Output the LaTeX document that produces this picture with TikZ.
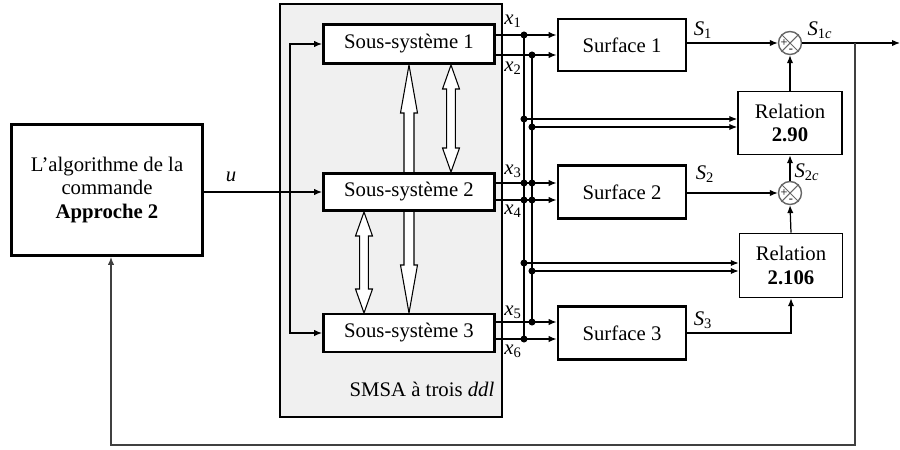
\documentclass[tikz,border=0pt]{standalone}
\usepackage{fontspec}
\setmainfont{Liberation Serif}
\usetikzlibrary{arrows.meta,calc}
\newcommand\hollowarrow[6]{%
  \draw[fill=white, line width=0.6pt]
    (#1,#2) -- ({#1+#5},{#2+#6}) -- ({#1+#4},{#2+#6}) -- ({#1+#4},{#3-#6})
    -- ({#1+#5},{#3-#6}) -- (#1,#3) -- ({#1-#5},{#3-#6}) -- ({#1-#4},{#3-#6})
    -- ({#1-#4},{#2+#6}) -- ({#1-#5},{#2+#6}) -- cycle;}
\begin{document}
\begin{tikzpicture}[x=0.02cm,y=-0.02cm,
  font=\fontsize{11.8}{13.6}\selectfont,
  box/.style={draw, line width=1.6pt, fill=white, inner sep=0pt, align=center},
  rel/.style={draw, line width=0.9pt, fill=white, inner sep=0pt, align=center},
  wire/.style={line width=0.7pt},
  arr/.style={wire, -{Latex[length=4.5pt,width=3.6pt]}},
  lbl/.style={inner sep=0pt},
  sumnode/.style={circle, draw=black!60, line width=0.8pt, minimum size=23*0.02cm, inner sep=0pt},
  sgn/.style={inner sep=0pt, font=\fontsize{7}{7}\selectfont},
]
\useasboundingbox (0,0) rectangle (900,450);

% SMSA frame
\draw[fill=black!6, line width=0.6pt] (280,4) rectangle (502,417);
\node[lbl] (smsa) at (422,389) {SMSA à trois \textit{ddl}};

% hollow double arrows
\hollowarrow{409}{65}{313}{5}{8.5}{48}
\hollowarrow{451}{65}{172}{4.3}{8.5}{24}
\hollowarrow{364}{212}{313}{4.3}{8.5}{24}

% blocks
\node[box, minimum width=191*0.02cm, minimum height=131*0.02cm] (algo) at (107,190)
  {L’algorithme de la\\commande\\\textbf{Approche 2}};
\node[box, minimum width=171*0.02cm, minimum height=39*0.02cm] (ss1) at (409,44) {Sous-système 1};
\node[box, minimum width=171*0.02cm, minimum height=37*0.02cm] (ss2) at (409,192) {Sous-système 2};
\node[box, minimum width=171*0.02cm, minimum height=38*0.02cm] (ss3) at (409,333) {Sous-système 3};
\node[box, minimum width=128*0.02cm, minimum height=52*0.02cm] (surf1) at (622,45) {Surface 1};
\node[box, minimum width=128*0.02cm, minimum height=53*0.02cm] (surf2) at (622,192) {Surface 2};
\node[box, minimum width=128*0.02cm, minimum height=53*0.02cm] (surf3) at (622,333) {Surface 3};
\node[rel, minimum width=104*0.02cm, minimum height=63*0.02cm] (rel1) at (790,123) {Relation\\\textbf{2.90}};
\node[rel, minimum width=103*0.02cm, minimum height=64*0.02cm] (rel2) at (791,265.5) {Relation\\\textbf{2.106}};

% summing junctions
\node[sumnode] (sum1) at (790,43) {};
\node[sumnode] (sum2) at (790,193) {};
\draw[draw=black!60, line width=0.6pt] (sum1.north west) -- (sum1.south east) (sum1.north east) -- (sum1.south west);
\draw[draw=black!60, line width=0.6pt] (sum2.north west) -- (sum2.south east) (sum2.north east) -- (sum2.south west);
\node[sgn] (p1) at ($(sum1)+(-6,0)$) {+};
\node[sgn] (m1) at ($(sum1)+(1,8)$) {-};
\node[sgn] (p2) at ($(sum2)+(-6,0)$) {+};
\node[sgn] (m2) at ($(sum2)+(1,8)$) {-};

% input u
\coordinate (br) at (290,192);
\draw[arr] (algo.east |- ss2.west) -- (ss2.west);
\draw[arr] (br) |- (ss1.west);
\draw[arr] (br) |- (ss3.west);
\node[lbl] (lu) at (231,177) {\textit{u}};

% bus coordinates
\coordinate (A1) at (524,35);  \coordinate (B2) at (532,55);
\coordinate (A3) at (524,119); \coordinate (B4) at (532,127);
\coordinate (A5) at (524,183); \coordinate (B5) at (532,183);
\coordinate (A6) at (524,200); \coordinate (B6) at (532,200);
\coordinate (A7) at (524,263); \coordinate (B7) at (532,271);
\coordinate (B8) at (532,322); \coordinate (A8) at (524,339);

% outputs of subsystems
\draw[arr] (ss1.east |- A1) -- (surf1.west |- A1);
\draw[arr] (ss1.east |- B2) -- (surf1.west |- B2);
\draw[arr] (ss2.east |- A5) -- (surf2.west |- A5);
\draw[arr] (ss2.east |- A6) -- (surf2.west |- A6);
\draw[arr] (ss3.east |- B8) -- (surf3.west |- B8);
\draw[arr] (ss3.east |- A8) -- (surf3.west |- A8);

% buses
\draw[wire] (A1) -- (A8);
\draw[wire] (B2) -- (B8);
\draw[arr] (A3) -- (rel1.west |- A3);
\draw[arr] (B4) -- (rel1.west |- B4);
\draw[arr] (A7) -- (rel2.west |- A7);
\draw[arr] (B7) -- (rel2.west |- B7);
\foreach \p in {A1,B2,A3,B4,A5,B5,A6,B6,A7,B7,B8,A8} \fill (\p) circle[radius=2pt];

\node[lbl] (lx1) at (513,21) {\textit{x}\textsubscript{1}};
\node[lbl] (lx2) at (513,68) {\textit{x}\textsubscript{2}};
\node[lbl] (lx3) at (513,171) {\textit{x}\textsubscript{3}};
\node[lbl] (lx4) at (513,211) {\textit{x}\textsubscript{4}};
\node[lbl] (lx5) at (513,312) {\textit{x}\textsubscript{5}};
\node[lbl] (lx6) at (513,351) {\textit{x}\textsubscript{6}};

% surfaces to sums / relations
\draw[arr] (surf1.east |- sum1) -- (sum1.west);
\draw[arr] (surf2.east |- sum2) -- (sum2.west);
\draw[arr] (surf3.east) -| (rel2.south);
\draw[arr] (rel1.north) -- (sum1.south);
\draw[arr] (rel2.north) -- (sum2.south);
\draw[arr] (sum2.north) -- (rel1.south);
\node[lbl] (lS1) at (703,30) {\textit{S}\textsubscript{1}};
\node[lbl] (lS2) at (705,174) {\textit{S}\textsubscript{2}};
\node[lbl] (lS3) at (703,320) {\textit{S}\textsubscript{3}};
\node[lbl] (lS1c) at (820,30) {\textit{S}\textsubscript{1\textit{c}}};
\node[lbl] (lS2c) at (807,172) {\textit{S}\textsubscript{2\textit{c}}};

% output and feedback
\coordinate (out) at (900,43);
\coordinate (tap) at (855,43);
\coordinate (fb) at (111,445);
\draw[arr] (sum1.east) -- (out);
\draw[arr, draw=black!75] (tap) |- (fb) -- (fb |- algo.south);
\end{tikzpicture}
\end{document}
